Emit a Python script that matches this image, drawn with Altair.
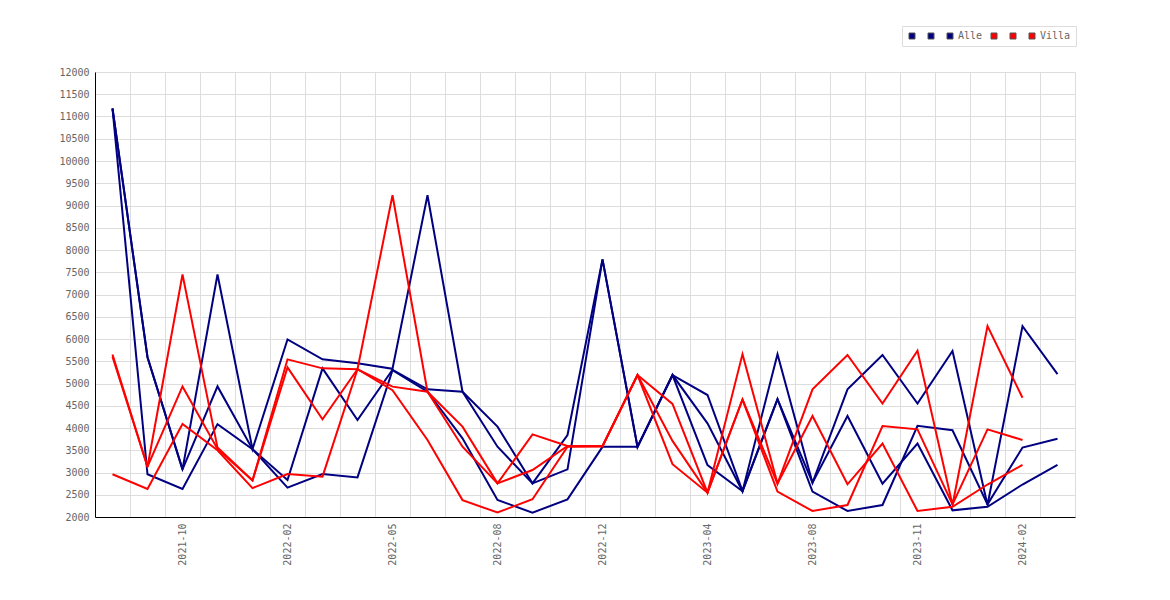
import altair as alt
import pandas as pd

# x categories (28 periods) and the ones that carry a label
periods = ["2021-08", "2021-09", "2021-10", "2021-11", "2022-01", "2022-02", "2022-03",
           "2022-04", "2022-05", "2022-06", "2022-07", "2022-08", "2022-10", "2022-11",
           "2022-12", "2023-02", "2023-03", "2023-04", "2023-06", "2023-07", "2023-08",
           "2023-09", "2023-10", "2023-11", "2023-12", "2024-01", "2024-02", "2024-03"]
shown_labels = ["2021-10", "2022-02", "2022-05", "2022-08", "2022-12",
                "2023-04", "2023-08", "2023-11", "2024-02"]
y_ticks = [2000, 2500, 3000, 3500, 4000, 4500, 5000, 5500, 6000, 6500, 7000,
           7500, 8000, 8500, 9000, 9500, 10000, 10500, 11000, 11500, 12000]

# "Alle" (navy) series, 28 values each
alle_1 = [11180, 5590, 3070, 7450, 3525, 5990, 5543, 5453, 5330, 9230, 4816, 4030, 2756, 3843,
          7790, 3576, 5190, 4741, 2580, 5660, 2770, 4870, 5640, 4550, 5730, 2270, 6290, 5210]
alle_2 = [11180, 5590, 3070, 4935, 3525, 2830, 5340, 4180, 5310, 4869, 4816, 3580, 2756, 3071,
          7790, 3576, 5190, 4105, 2580, 4650, 2770, 4270, 2750, 3650, 2150, 2230, 2730, 3170]
alle_3 = [11180, 2960, 2630, 4087, 3525, 2660, 2966, 2890, 5300, 4816, 3768, 2382, 2097, 2397,
          3576, 3576, 5190, 3168, 2580, 4650, 2570, 2135, 2270, 4050, 3950, 2285, 3560, 3760]

# "Villa" (red) series, 27 values each
villa_1 = [5650, 3130, 7450, 3560, 2820, 5543, 5340, 5320, 9230, 4816, 4030, 2756, 3857, 3595,
           3590, 5190, 4540, 2547, 5660, 2750, 4870, 5640, 4550, 5735, 2270, 6290, 4680]
villa_2 = [5600, 3130, 4935, 3530, 2820, 5363, 4195, 5320, 4930, 4816, 3580, 2756, 3056, 3595,
           3590, 5190, 3710, 2547, 4640, 2750, 4270, 2735, 3650, 2135, 2230, 2730, 3170]
villa_3 = [2960, 2630, 4090, 3500, 2650, 2966, 2906, 5320, 4850, 3730, 2380, 2100, 2400, 3580,
           3590, 5190, 3186, 2547, 4640, 2570, 2135, 2270, 4045, 3970, 2285, 3970, 3730]

series_names = ["Alle 1", "Alle 2", "Alle", "Villa 1", "Villa 2", "Villa"]
series_values = [alle_1, alle_2, alle_3, villa_1, villa_2, villa_3]
series_colors = ["#000080", "#000080", "#000080", "#ff0000", "#ff0000", "#ff0000"]

rows = []
for name, vals in zip(series_names, series_values):
    for p, v in zip(periods, vals):
        rows.append({"period": p, "value": v, "series": name,
                     "group": "Alle" if name.startswith("Alle") else "Villa"})
df = pd.DataFrame(rows)

FONT = "DejaVu Sans Mono"
label_list = "[" + ",".join("'" + s + "'" for s in shown_labels) + "]"

x_enc = alt.X(
    "period:O",
    sort=periods,
    bandPosition=0.5,
    scale=alt.Scale(type="band", domain=periods, paddingInner=0, paddingOuter=0),
    axis=alt.Axis(
        title=None, ticks=False, tickBand="extent", grid=True, gridColor="#dddddd",
        domainColor="#000000", domainWidth=1, labelAngle=270, labelPadding=6,
        labelFont=FONT, labelFontSize=10, labelColor="#666666", labelOverlap=False,
        labelExpr="indexof(" + label_list + ", datum.value) >= 0 ? datum.value : ''",
    ),
)
y_enc = alt.Y(
    "value:Q",
    scale=alt.Scale(domain=[2000, 12000], nice=False, zero=False),
    axis=alt.Axis(
        title=None, values=y_ticks, format="d", ticks=False, grid=True, gridColor="#dddddd",
        domainColor="#000000", domainWidth=1, labelPadding=6,
        labelFont=FONT, labelFontSize=10, labelColor="#666666",
    ),
)

base = alt.Chart(df)

navy_lines = base.transform_filter(alt.datum.group == "Alle").mark_line(
    color="#000080", strokeWidth=2
).encode(x=x_enc, y=y_enc, detail="series:N")

red_lines = base.transform_filter(alt.datum.group == "Villa").mark_line(
    color="#ff0000", strokeWidth=2
).encode(x=x_enc, y=y_enc, detail="series:N")

legend_layer = base.mark_point(shape="square", filled=True, size=0, opacity=0).encode(
    x=x_enc,
    y=y_enc,
    color=alt.Color(
        "series:N",
        scale=alt.Scale(domain=series_names, range=series_colors),
        legend=alt.Legend(
            orient="none", legendX=807, legendY=-46, direction="horizontal", title=None,
            symbolType="square", symbolSize=36, symbolOpacity=1,
            symbolStrokeColor="#555555", symbolStrokeWidth=1,
            labelFont=FONT, labelFontSize=10, labelColor="#666666",
            labelOffset=3, columnPadding=6, padding=5, strokeColor="#dddddd",
            labelExpr="datum.label == 'Alle' || datum.label == 'Villa' ? datum.label : ' '",
        ),
    ),
)

chart = alt.layer(navy_lines, red_lines, legend_layer).properties(
    width=980,
    height=445,
    autosize=alt.AutoSizeParams(type="none"),
    padding={"left": 87, "top": 64, "right": 80, "bottom": 60},
    background="white",
).configure_view(stroke=None)

chart.save("out.html", embed_options={"renderer": "svg", "actions": False})
